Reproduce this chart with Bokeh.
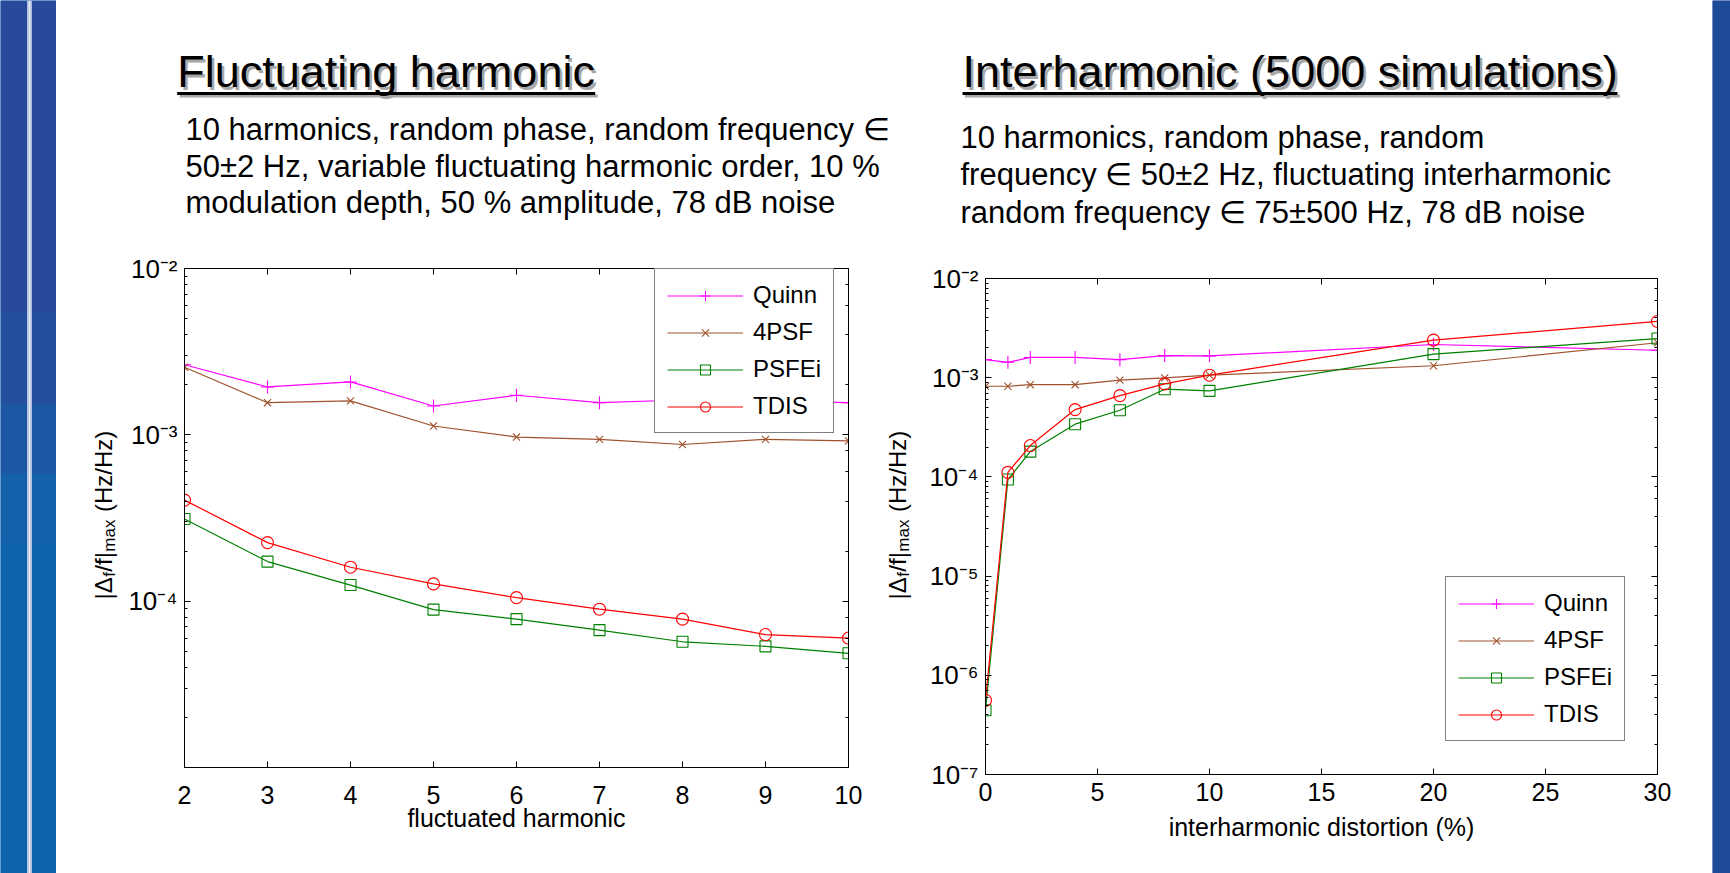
from math import pi
from bokeh.plotting import figure
from bokeh.models import (Range1d, LogAxis, LinearAxis, FixedTicker, LogTicker,
                          Legend, LegendItem, CustomJSTickFormatter, Spacer)
from bokeh.layouts import row, column
from bokeh.embed import file_html
from bokeh.resources import INLINE
from bokeh.core.properties import value

# ---------------- data ----------------
series_names = ["Quinn", "4PSF", "PSFEi", "TDIS"]

harm_x = [2, 3, 4, 5, 6, 7, 8, 9, 10]
fh_quinn = [2.64e-3, 1.94e-3, 2.08e-3, 1.49e-3, 1.73e-3, 1.56e-3, 1.62e-3, 1.60e-3, 1.56e-3]
fh_4psf = [2.55e-3, 1.56e-3, 1.60e-3, 1.13e-3, 9.7e-4, 9.4e-4, 8.75e-4, 9.4e-4, 9.2e-4]
fh_psfei = [3.12e-4, 1.73e-4, 1.25e-4, 8.9e-5, 7.8e-5, 6.7e-5, 5.7e-5, 5.35e-5, 4.86e-5]
fh_tdis = [4.05e-4, 2.25e-4, 1.60e-4, 1.27e-4, 1.05e-4, 8.95e-5, 7.8e-5, 6.3e-5, 6.0e-5]

ih_x = [0, 1, 2, 4, 6, 8, 10, 20, 30]
ih_quinn = [1.52e-3, 1.43e-3, 1.60e-3, 1.60e-3, 1.52e-3, 1.67e-3, 1.66e-3, 2.16e-3, 1.89e-3]
ih_4psf = [8.2e-4, 8.2e-4, 8.5e-4, 8.5e-4, 9.45e-4, 9.96e-4, 1.06e-3, 1.32e-3, 2.25e-3]
ih_psfei = [4.45e-7, 9.4e-5, 1.80e-4, 3.40e-4, 4.70e-4, 7.66e-4, 7.37e-4, 1.73e-3, 2.48e-3]
ih_tdis = [5.6e-7, 1.11e-4, 2.07e-4, 4.77e-4, 6.6e-4, 8.67e-4, 1.06e-3, 2.39e-3, 3.69e-3]

x_ticks_left = [2, 3, 4, 5, 6, 7, 8, 9, 10]
x_ticks_right = [0, 5, 10, 15, 20, 25, 30]

title_left = "Fluctuating harmonic"
title_right = "Interharmonic (5000 simulations)"
sub_left = ["10 harmonics, random phase, random frequency \u2208",
            "50\u00b12 Hz, variable fluctuating harmonic order, 10 %",
            "modulation depth, 50 % amplitude, 78 dB noise"]
sub_right = ["10 harmonics, random phase, random",
             "frequency \u2208 50\u00b12 Hz, fluctuating interharmonic",
             "random frequency \u2208 75\u00b1500 Hz, 78 dB noise"]
xlabel_left = "fluctuated harmonic"
xlabel_right = "interharmonic distortion (%)"
ylabel_parts = ["|\u0394", "f", "/f|", "max", "(Hz/Hz)"]

# ---------------- style ----------------
FONT = "Liberation Sans"
colors = ["#ff00ff", "#a0522d", "#008000", "#ff0000"]
markers = ["cross", "x", "square", "circle"]
msizes = [13, 10, 11, 12]
H = 873          # page height
TOP = 240        # height of the header band
RSHIFT = 10      # right chart group starts a little lower

POW10 = """
const e = Math.round(Math.log10(tick));
const sup = {'-': '\u207b', '0': '\u2070', '1': '\u00b9', '2': '\u00b2', '3': '\u00b3',
             '4': '\u2074', '5': '\u2075', '6': '\u2076', '7': '\u2077', '8': '\u2078',
             '9': '\u2079'};
return '10' + String(e).split('').map(c => sup[c]).join('');
"""


def style_axis(ax, labels=True, minor=False):
    ax.axis_line_color = "black"
    ax.axis_line_width = 1
    ax.major_tick_in = 6
    ax.major_tick_out = 0
    ax.minor_tick_in = 3
    ax.minor_tick_out = 0
    ax.major_tick_line_color = "black"
    ax.minor_tick_line_color = "black" if minor else None
    ax.major_label_text_font = FONT
    ax.major_label_text_color = "black"
    ax.major_label_text_font_size = "25px"
    ax.axis_label_text_font = FONT
    ax.axis_label_text_font_style = "normal"
    ax.axis_label_text_font_size = "25px"
    ax.axis_label_text_color = "black"
    if not labels:
        ax.formatter = CustomJSTickFormatter(code="return ''")
        ax.major_label_standoff = 0
        ax.major_label_text_font_size = "1px"


def make_chart(xs, ys, xr, yr, xticks, width, height, borders, legend_loc,
               xlabel, xstand, xlabstand):
    bl, br, bt, bb = borders
    p = figure(width=width, height=height, x_range=Range1d(*xr), y_range=Range1d(*yr),
               y_axis_type="log", output_backend="svg", toolbar_location=None, title=None,
               min_border_left=bl, min_border_right=br, min_border_top=bt,
               min_border_bottom=bb, background_fill_color="white",
               border_fill_color="white", outline_line_color="black")
    p.grid.visible = False
    p.xaxis.ticker = FixedTicker(ticks=xticks)
    p.xaxis.axis_label = xlabel
    style_axis(p.xaxis[0])
    style_axis(p.yaxis[0], minor=True)
    p.yaxis.formatter = CustomJSTickFormatter(code=POW10)
    p.yaxis.major_label_text_font_size = "26px"
    p.xaxis.major_label_standoff = xstand
    p.xaxis.axis_label_standoff = xlabstand
    p.yaxis.major_label_standoff = 7
    top = LinearAxis(ticker=FixedTicker(ticks=xticks))
    style_axis(top, labels=False)
    p.add_layout(top, "above")
    right = LogAxis(ticker=LogTicker())
    style_axis(right, labels=False, minor=True)
    p.add_layout(right, "right")

    items = []
    for name, y, c, m, s in zip(series_names, ys, colors, markers, msizes):
        lr = p.line(xs, y, line_color=c, line_width=1.2)
        sr = p.scatter(xs, y, marker=m, size=s, line_color=c, fill_color=None, line_width=1.1)
        items.append(LegendItem(label=name, renderers=[lr, sr]))
    leg = Legend(items=items, location=legend_loc, border_line_color="black",
                 border_line_width=1, background_fill_color="white", background_fill_alpha=1,
                 label_text_font=FONT, label_text_font_size="24px", label_text_color="black",
                 glyph_width=76, glyph_height=25, label_height=25, spacing=9,
                 padding=12, margin=0, label_standoff=10, label_width=66)
    p.add_layout(leg)
    return p


def ylabel_panel(x0, x1, xc, page_bottom, height, bt, bb, page_top0):
    """Narrow panel holding the rotated y-axis label with subscripts.
    Its frame has the same top/bottom borders as the neighbouring chart,
    and its data coordinates are page pixels."""
    f_top = page_top0 + bt
    f_bot = page_top0 + height - bb
    s = figure(width=x1 - x0, height=height, x_range=Range1d(x0, x1),
               y_range=Range1d(f_bot, f_top), title=None,
               output_backend="svg", toolbar_location=None,
               min_border_left=0, min_border_right=0, min_border_top=bt, min_border_bottom=bb,
               outline_line_color=None, background_fill_color="white",
               border_fill_color="white")
    s.axis.visible = False
    s.grid.visible = False
    sizes = [24, 17, 24, 17, 24]
    widths = [22.3, 5.5, 19.6, 33.0, 81.3]   # advance of each piece (px)
    gaps_after = [0, 0, 0, 7.0, 0]
    subs = [False, True, False, True, False]
    pos = page_bottom
    for txt, fs, w, g, sb in zip(ylabel_parts, sizes, widths, gaps_after, subs):
        s.text(x=[xc + (6 if sb else 0)], y=[pos - w / 2], text=[txt], angle=pi / 2,
               text_font=value(FONT), text_font_size=f"{fs}px", text_color="black",
               text_align="center", text_baseline="middle")
        pos -= (w + g)
    return s


HL = H - TOP            # 633
HR = H - TOP - RSHIFT   # 623

ylab_left = ylabel_panel(56, 120, 103, 599, HL, 28, 106, TOP)
fig_left = make_chart(harm_x, [fh_quinn, fh_4psf, fh_psfei, fh_tdis], (2, 10), (1.0001e-5, 1e-2),
                      x_ticks_left, 755, HL, (64, 27, 28, 106), (470, 334),
                      xlabel_left, 18, -3)
ylab_right = ylabel_panel(875, 915, 897, 599, HR, 28, 99, TOP + RSHIFT)
fig_right = make_chart(ih_x, [ih_quinn, ih_4psf, ih_psfei, ih_tdis], (0, 30), (1e-7, 1e-2),
                       x_ticks_right, 797, HR, (70, 55, 28, 99), (460, 33),
                       xlabel_right, 8, 9)

left_group = row(ylab_left, fig_left)
right_group = column(Spacer(width=837, height=RSHIFT), row(ylab_right, fig_right))

# ---------------- header (titles and descriptions) ----------------
HW = 1656
header = figure(width=HW, height=TOP, x_range=Range1d(0, HW), y_range=Range1d(TOP, 0),
                output_backend="svg", toolbar_location=None, min_border=0, title=None,
                outline_line_color=None, background_fill_color="white",
                border_fill_color="white")
header.axis.visible = False
header.grid.visible = False

tx = [120.7, 906]
ty = [71, 71]
uy = [93, 93]
tw = [418, 655]
titles = [title_left, title_right]
header.text(x=[v + 2.5 for v in tx], y=[v + 2.5 for v in ty], text=titles, text_color="#a8a8a8",
            text_font=value(FONT), text_font_size="45px", text_baseline="middle")
header.segment(x0=[v + 2.5 for v in tx], y0=[v + 2.5 for v in uy],
               x1=[a + b + 2.5 for a, b in zip(tx, tw)], y1=[v + 2.5 for v in uy],
               line_color="#a8a8a8", line_width=3)
header.text(x=tx, y=ty, text=titles, text_color="black",
            text_font=value(FONT), text_font_size="45px", text_baseline="middle")
header.segment(x0=tx, y0=uy, x1=[a + b for a, b in zip(tx, tw)],
               y1=uy, line_color="black", line_width=3)

header.text(x=[129] * 3, y=[129, 165.5, 202], text=sub_left, text_color="black",
            text_font=value(FONT), text_font_size="31px", text_baseline="middle")
header.text(x=[904] * 3, y=[137, 174, 212], text=sub_right, text_color="black",
            text_font=value(FONT), text_font_size="31px", text_baseline="middle")


# ---------------- decorative side strips ----------------
def strip(width, bands, lines):
    s = figure(width=width, height=H, x_range=Range1d(0, width), y_range=Range1d(0, H),
               output_backend="svg", toolbar_location=None, min_border=0, title=None,
               outline_line_color=None, background_fill_color=bands[0][2],
               border_fill_color=bands[0][2])
    s.axis.visible = False
    s.grid.visible = False
    s.quad(left=0, right=width, bottom=[b[0] for b in bands], top=[b[1] for b in bands],
           fill_color=[b[2] for b in bands], line_color=None)
    for (l, r, c) in lines:
        s.quad(left=l, right=r, bottom=0, top=H, fill_color=c, line_color=None)
    return s


strip_left = strip(56, [(0, 330, "#0e63ae"), (330, 400, "#1560ab"), (400, 470, "#1c57a4"),
                        (470, 560, "#234f9e"), (560, 873, "#284a9a")],
                   [(26.5, 31.5, "#aebfde"), (28.2, 29.8, "#e6ecf7")])
strip_right = strip(18, [(0, 873, "#1f4a98")], [])

page = row(strip_left,
           column(header, row(left_group, right_group)),
           strip_right)

open("out.html", "w").write(file_html(page, INLINE))
